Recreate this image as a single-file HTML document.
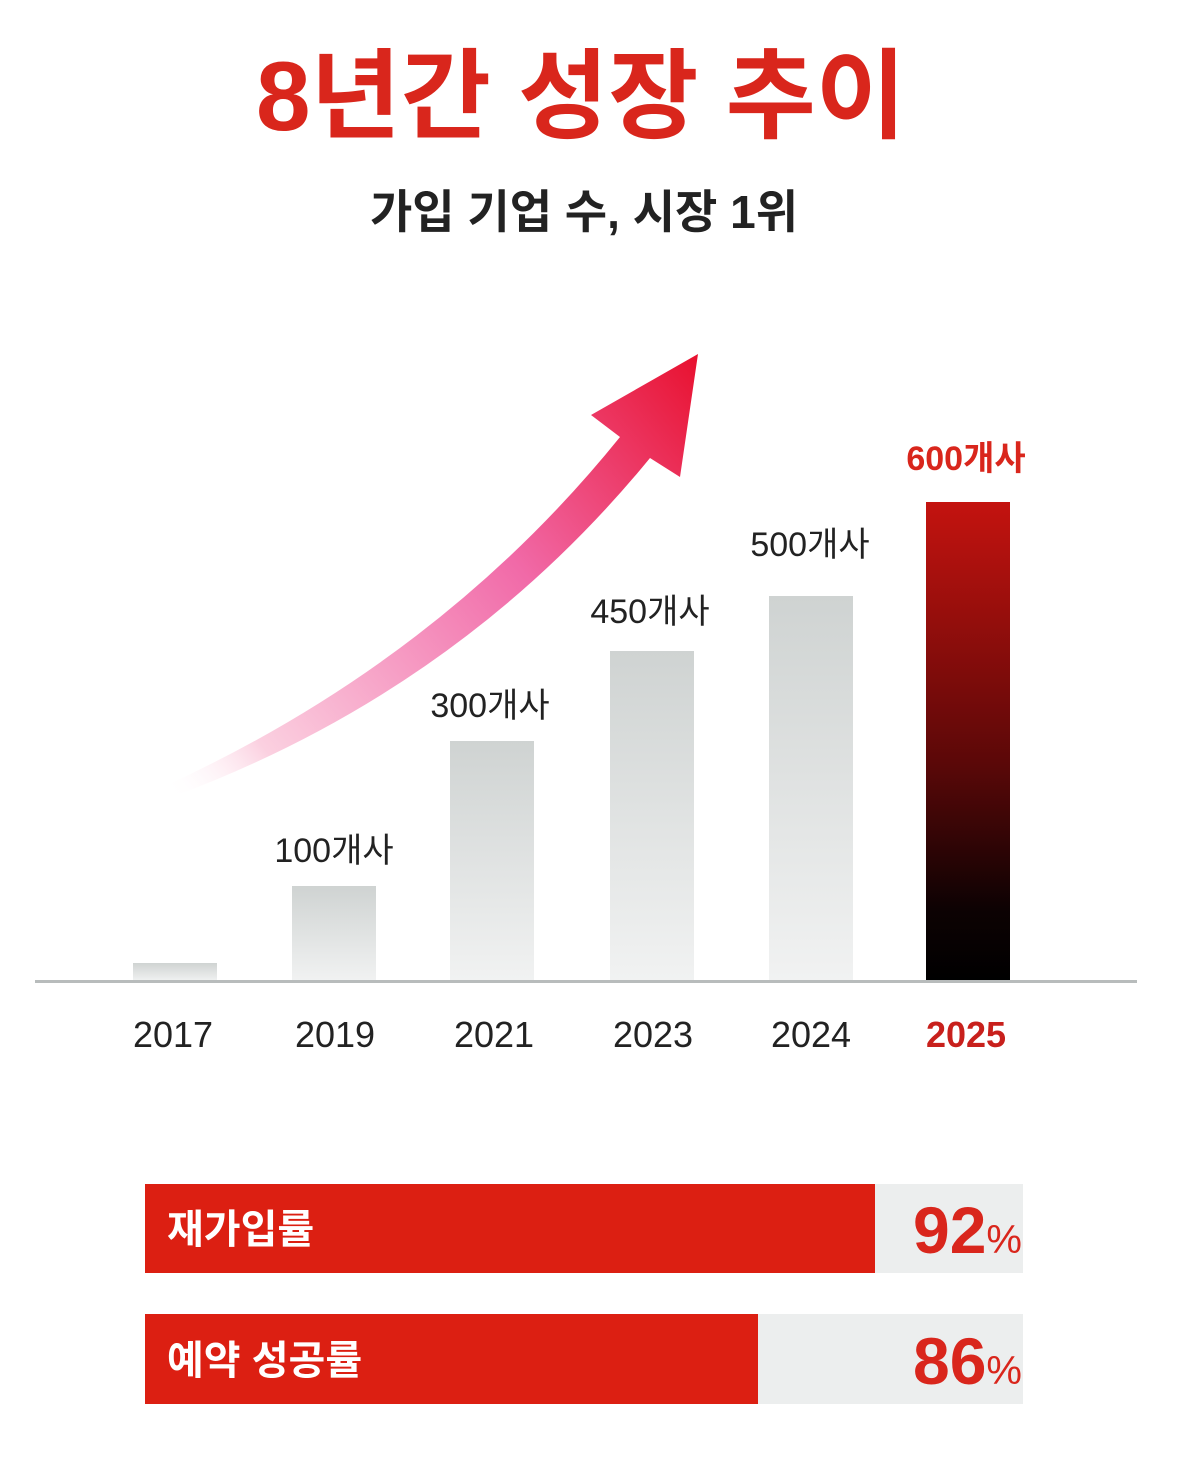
<!DOCTYPE html>
<html><head><meta charset="utf-8"><style>
body{margin:0;background:#fff;}
svg text{font-family:"Liberation Sans","Noto Sans CJK KR",sans-serif;}
</style></head><body>
<svg width="1200" height="1458" viewBox="0 0 1200 1458" xmlns="http://www.w3.org/2000/svg">
<defs>
<linearGradient id="bar" x1="0" y1="0" x2="0" y2="1"><stop offset="0" stop-color="#cfd3d2"/><stop offset="1" stop-color="#f1f2f2"/></linearGradient>
<linearGradient id="red" x1="0" y1="0" x2="0" y2="1"><stop offset="0" stop-color="#c4130f"/><stop offset="0.55" stop-color="#5a0808"/><stop offset="0.85" stop-color="#0d0203"/><stop offset="1" stop-color="#000"/></linearGradient>
<linearGradient id="arr" x1="165" y1="790" x2="700" y2="354" gradientUnits="userSpaceOnUse"><stop offset="0" stop-color="#fff" stop-opacity="0"/><stop offset="0.15" stop-color="#fbd0e0"/><stop offset="0.6" stop-color="#f16aa8"/><stop offset="1" stop-color="#e8102e"/></linearGradient>
</defs>
<text x="581" y="130" text-anchor="middle" font-size="98" font-weight="bold" fill="#d9261c">8년간 성장 추이</text>
<text x="584" y="228" text-anchor="middle" font-size="46" font-weight="bold" fill="#222">가입 기업 수, 시장 1위</text>
<path d="M165,786 Q440,660 620,437 L591,415 L698,354 L680,477 L650,458 Q460,690 172,797 Z" fill="url(#arr)"/>
<rect x="133" y="963" width="84" height="18" fill="url(#bar)"/>
<rect x="292" y="886" width="84" height="95" fill="url(#bar)"/>
<rect x="450" y="741" width="84" height="240" fill="url(#bar)"/>
<rect x="610" y="651" width="84" height="330" fill="url(#bar)"/>
<rect x="769" y="596" width="84" height="385" fill="url(#bar)"/>
<rect x="926" y="502" width="84" height="479" style="fill:url(#red)"/>
<line x1="35" y1="981.5" x2="1137" y2="981.5" stroke="#b8bcbc" stroke-width="3"/>
<g font-size="34" fill="#222" text-anchor="middle">
<text x="334" y="862">100개사</text>
<text x="490" y="717">300개사</text>
<text x="650" y="623">450개사</text>
<text x="810" y="556">500개사</text>
<text x="966" y="470" fill="#d9261c" font-weight="bold">600개사</text>
</g>
<g font-size="36" fill="#222" text-anchor="middle">
<text x="173" y="1047">2017</text>
<text x="335" y="1047">2019</text>
<text x="494" y="1047">2021</text>
<text x="653" y="1047">2023</text>
<text x="811" y="1047">2024</text>
<text x="966" y="1047" fill="#c8201c" font-weight="bold">2025</text>
</g>
<rect x="145" y="1184" width="878" height="89" fill="#eceeee"/>
<rect x="145" y="1184" width="730" height="89" fill="#dc1f12"/>
<rect x="145" y="1314" width="878" height="90" fill="#eceeee"/>
<rect x="145" y="1314" width="613" height="90" fill="#dc1f12"/>
<text x="167" y="1243" font-size="40" font-weight="bold" fill="#fff">재가입률</text>
<text x="167" y="1374" font-size="40" font-weight="bold" fill="#fff">예약 성공률</text>
<text x="1022" y="1253" text-anchor="end" font-size="66" font-weight="bold" fill="#d9261c">92<tspan font-size="40" font-weight="normal">%</tspan></text>
<text x="1022" y="1384" text-anchor="end" font-size="66" font-weight="bold" fill="#d9261c">86<tspan font-size="40" font-weight="normal">%</tspan></text>
</svg>
</body></html>
